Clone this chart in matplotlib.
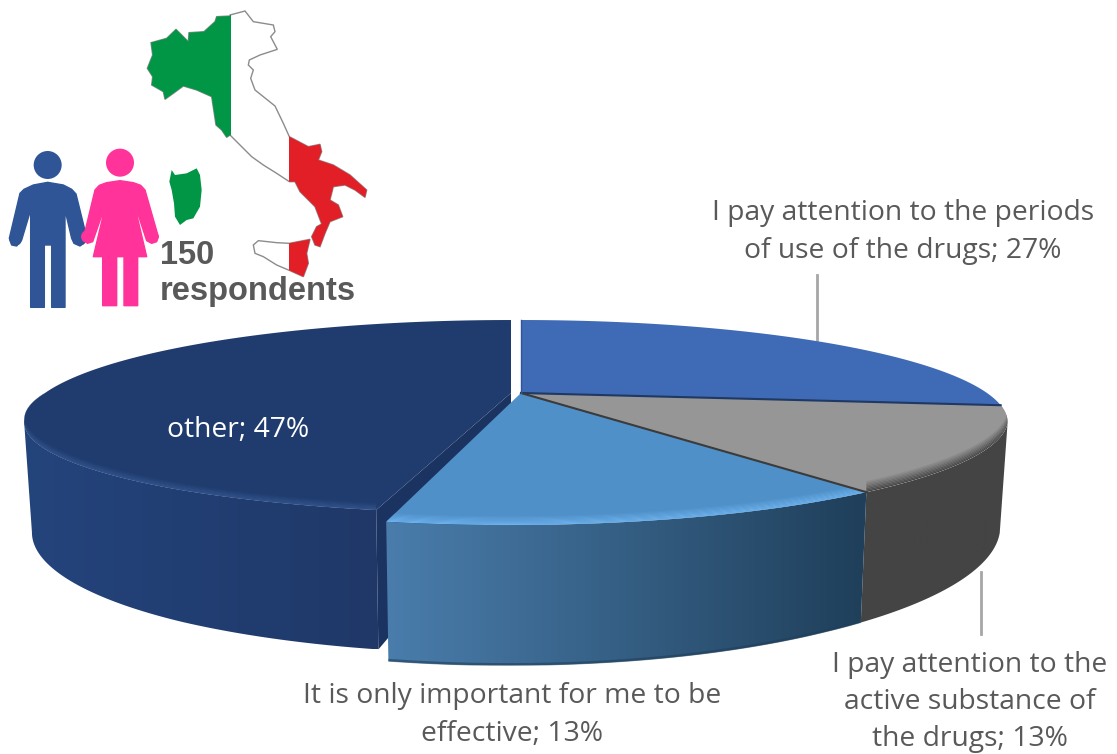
import numpy as np
import matplotlib
matplotlib.use('Agg')
import matplotlib.pyplot as plt
from matplotlib.colors import LinearSegmentedColormap, to_rgb
from matplotlib.patches import Circle, Polygon, Rectangle

# pie data, clockwise from 12 o'clock
slice_names = ['I pay attention to the periods\nof use of the drugs',
               'I pay attention to the\nactive substance of\nthe drugs',
               'It is only important for me to be\neffective',
               'other']
slice_values = [27, 13, 13, 47]
respondents = 150

top_colors = ['#3f6ab5', '#969696', '#5090c8', '#203c6e']
rim_colors = ['#3f6ab5', '#454545', '#6db2ee', '#33558f']
side_left = ['#3f6ab5', '#444444', '#4a7dac', '#24447c']
side_right = ['#3f6ab5', '#444444', '#1f3f5a', '#1f3868']
seam_alpha = [0, 0, 0.6, 0]
shifts = [(0, 0), (0, 0), (0, 0), (-10, 0)]
lifts = [0, 0, 0, 12]

# projection of the pie disc
CX, CY = 521, 393
R, B, P = 466, 94, 0.288
DEPTH = 100
SHRINK = 0.016

# icon outlines, in units of 1/3 px
italy = [(690, 45), (735, 33), (760, 65), (820, 75), (825, 95), (812, 110),
         (832, 148), (780, 165), (748, 180), (745, 195), (760, 210), (752, 235),
         (765, 270), (825, 318), (850, 370), (868, 410), (925, 440), (960, 433),
         (965, 455), (955, 480), (1000, 495), (1050, 525), (1100, 570),
         (1095, 592), (1065, 570), (1035, 555), (1000, 560), (990, 600),
         (1015, 615), (1028, 650), (990, 665), (975, 700), (960, 740),
         (945, 735), (935, 710), (950, 680), (965, 672), (945, 620), (900, 575),
         (885, 545), (868, 545), (830, 520), (790, 495), (755, 470), (715, 430),
         (690, 405), (680, 412), (665, 390), (648, 375), (635, 290), (590, 270),
         (550, 258), (520, 280), (495, 298), (490, 275), (455, 255), (458, 230),
         (442, 205), (458, 165), (453, 128), (500, 115), (528, 88), (555, 115),
         (565, 125), (567, 98), (612, 95), (645, 65), (650, 50), (690, 48)]
sicily = [(760, 735), (775, 722), (830, 728), (868, 730), (930, 718), (920, 760),
          (925, 790), (910, 830), (870, 812), (830, 795), (790, 770), (765, 760)]
sardinia = [(515, 510), (525, 525), (560, 520), (590, 505), (600, 525), (605, 570),
            (600, 620), (580, 655), (560, 660), (540, 675), (525, 650), (522, 610),
            (515, 570), (508, 545)]
man = [(60, 580), (72, 568), (100, 555), (143, 547), (190, 555), (215, 568),
       (228, 582), (260, 712), (255, 725), (240, 738), (222, 730), (215, 715),
       (195, 630), (195, 922), (155, 922), (155, 735), (133, 735), (133, 922),
       (92, 922), (92, 630), (65, 720), (50, 738), (35, 735), (28, 715)]
woman = [(285, 570), (298, 556), (320, 548), (360, 542), (400, 548), (422, 556),
         (435, 570), (475, 710), (470, 725), (455, 730), (440, 722), (400, 600),
         (440, 770), (413, 770), (413, 917), (372, 917), (372, 770), (350, 770),
         (350, 917), (308, 917), (308, 770), (280, 770), (318, 610), (278, 725),
         (262, 730), (250, 715)]


def disc_xy(theta, shift=(0, 0), lift=0):
    """ theta in radians clockwise from the top of the pie,
    returns top and bottom edge positions of the rim """
    theta = np.asarray(theta, dtype=float)
    u = np.sin(theta)
    v = -np.cos(theta)
    d = 1 - P * v
    x = R * u / d
    y = B * v / d
    # the near edge leans slightly to the left
    x = x - np.clip(0.17 * (y - 30), 0, 13)
    y = y - lift * np.clip(v, 0, None)
    top = np.column_stack([CX + x + shift[0], CY + y + shift[1]])
    bot = np.column_stack([CX + x * (1 - SHRINK) + shift[0],
                           CY + y + DEPTH / d + shift[1]])
    return top, bot


def scaled(points):
    return [(a / 3, b / 3) for a, b in points]


def side_face(ax, a0, a1, shift, lift, c0, c1, seam, z):
    """ outer wall of a slice, shaded from left to right """
    t = np.linspace(a0, a1, 400)
    t = t[-np.cos(t) > -0.3]
    top, bot = disc_xy(t, shift, lift)
    # visible part only, from the rightmost to the leftmost point of each edge
    upper = top[np.argmax(top[:, 0]):np.argmin(top[:, 0]) + 1]
    lower = bot[np.argmax(bot[:, 0]):np.argmin(bot[:, 0]) + 1]
    pts = np.vstack([upper, lower[::-1]])
    poly = Polygon(pts, closed=True, fc='none', ec='none', zorder=z)
    ax.add_patch(poly)
    cmap = LinearSegmentedColormap.from_list('side', [c0, c1])
    im = ax.imshow(np.linspace(0, 1, 256)[None, :], cmap=cmap, aspect='auto',
                   extent=(pts[:, 0].min(), pts[:, 0].max(),
                           pts[:, 1].max(), pts[:, 1].min()), zorder=z)
    im.set_clip_path(poly)
    # darker seam along the lower edge
    if seam > 0:
        ax.plot(lower[:, 0], lower[:, 1] - 1, color=c1, lw=2, alpha=seam, zorder=z,
                solid_capstyle='butt')


def top_face(ax, a0, a1, shift, lift, color, rim, rim_px, z):
    t = np.linspace(a0, a1, 240)
    arc, _ = disc_xy(t, shift, lift)
    apex = (CX + shift[0], CY + shift[1])
    face = Polygon(np.vstack([[apex], arc]), closed=True, fc=color, ec='none', zorder=z)
    ax.add_patch(face)
    if rim_px == 0:
        return
    # bevel along the outer edge, only on the part facing the viewer
    front = -np.cos(t) > 0
    edge = arc[front]
    c_in, c_out = np.array(to_rgb(color)), np.array(to_rgb(rim))
    steps = 8
    for i in range(steps):
        off0 = rim_px * (1 - i / steps)
        off1 = rim_px * (1 - (i + 1) / steps)
        band = np.vstack([edge - [0, off0], (edge - [0, off1])[::-1]])
        mix = (i + 1) / steps
        p = Polygon(band, closed=True, ec='none', zorder=z,
                    fc=tuple(c_in * (1 - mix) + c_out * mix))
        ax.add_patch(p)
        p.set_clip_path(face)


fig = plt.figure(figsize=(11.17, 7.54), dpi=100)
ax = fig.add_axes([0, 0, 1, 1])

edges = np.radians(np.cumsum([0] + slice_values) * 3.6)
rim_sizes = [0, 11, 9, 7]

# back to front so the nearer slices cover the others
for z, i in enumerate([3, 1, 2, 0], start=1):
    a0, a1 = edges[i], edges[i + 1]
    shift, lift = shifts[i], lifts[i]
    if i == 3:
        # inner wall showing beside the pulled out slice
        top, bot = disc_xy([a0], shift, lift)
        wall = [(CX + shift[0], CY + shift[1]), top[0], bot[0],
                (CX + shift[0], CY + DEPTH + shift[1])]
        ax.add_patch(Polygon(wall, closed=True, fc='#1b3360', ec='none', zorder=z))
    if i != 0:
        side_face(ax, a0, a1, shift, lift, side_left[i], side_right[i], seam_alpha[i], z)
    top_face(ax, a0, a1, shift, lift, top_colors[i], rim_colors[i], rim_sizes[i], z)

# seams between the slices on the top face
for e, color in [(edges[1], '#1f3864'), (edges[2], '#3b3b3b')]:
    top, _ = disc_xy([e])
    ax.plot([CX, top[0, 0]], [CY, top[0, 1]], color=color, lw=1.5, zorder=5)
top, _ = disc_xy([0.0])
ax.plot([CX, CX], [top[0, 1], CY], color='#2f5597', lw=1, zorder=5)

# leader lines
ax.plot([817, 817], [275, 340], color='#a6a6a6', lw=2, zorder=0.5)
ax.plot([981, 981], [572, 634], color='#a6a6a6', lw=2, zorder=0.5)

label_font = dict(family='Open Sans', fontsize=20.3, color='#595959',
                  ha='center', va='center', linespacing=1.44)
label_pos = [(903, 232), (970, 702), (512, 715), (238, 430)]
for name, value, (lx, ly) in zip(slice_names, slice_values, label_pos):
    kw = dict(label_font)
    if name == 'other':
        kw['color'] = 'white'
    ax.text(lx, ly, f'{name}; {value}%', zorder=7, **kw)

# map of Italy in the flag colours
outline = Polygon(scaled(italy), closed=True, fc='white', ec='#8c8c8c', lw=1, zorder=6)
ax.add_patch(outline)
sic = Polygon(scaled(sicily), closed=True, fc='white', ec='#8c8c8c', lw=1, zorder=6)
ax.add_patch(sic)
for shape in [outline, sic]:
    g = Rectangle((140, 0), 90.5, 300, fc='#009645', ec='none', zorder=6.1)
    r = Rectangle((289, 0), 90, 300, fc='#e21f26', ec='none', zorder=6.1)
    ax.add_patch(g)
    ax.add_patch(r)
    g.set_clip_path(shape)
    r.set_clip_path(shape)
ax.add_patch(Polygon(scaled(sardinia), closed=True, fc='#009645', ec='none', zorder=6))

# people
for outline_pts, head, hands, color, z in [
        (man, (143, 495), [(47, 718), (240, 718)], '#2f5597', 6),
        (woman, (360, 488), [(262, 710), (457, 710)], '#ff3399', 6.2)]:
    ax.add_patch(Polygon(scaled(outline_pts), closed=True, fc=color, ec=color,
                         lw=1, joinstyle='round', zorder=z))
    ax.add_patch(Circle((head[0] / 3, head[1] / 3), 14, fc=color, ec='none', zorder=z))
    for hx, hy in hands:
        ax.add_patch(Circle((hx / 3, hy / 3), 6.3, fc=color, ec='none', zorder=z))

ax.text(160, 255, str(respondents), family='Liberation Sans', fontweight='bold',
        fontsize=23.5, color='#595959', ha='left', va='center', zorder=7)
ax.text(160, 291.5, 'respondents', family='Liberation Sans', fontweight='bold',
        fontsize=23.5, color='#595959', ha='left', va='center', zorder=7)

ax.set_xlim(0, 1117)
ax.set_ylim(754, 0)
ax.axis('off')

fig.savefig('out.png', dpi=100, facecolor='white')
